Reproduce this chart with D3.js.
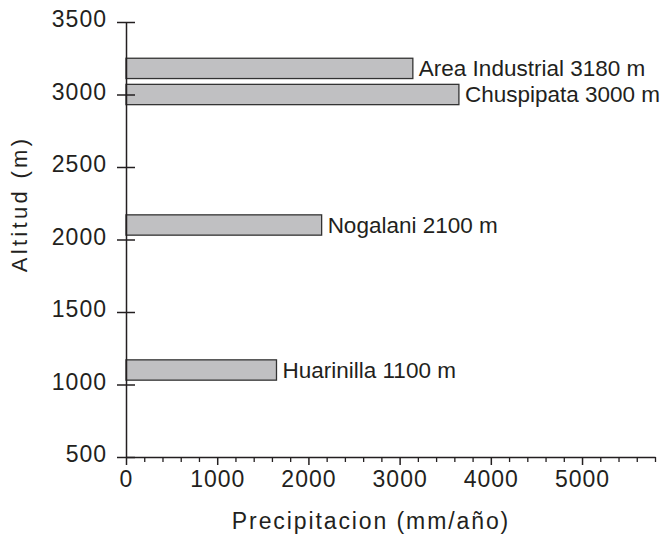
<!DOCTYPE html>
<html>
<head>
<meta charset="utf-8">
<script src="https://cdn.jsdelivr.net/npm/d3@7"></script>
<style>
  body { margin: 0; background: #fff; }
  svg text { font-family: Arial, "Liberation Sans", Helvetica, sans-serif; fill: #231f20; }
</style>
</head>
<body>
<div id="chart"></div>
<script>
// data
const sites = ["Area Industrial", "Chuspipata", "Nogalani", "Huarinilla"];
const altitudes = [3180, 3000, 2100, 1100];      // m
const precipitation = [3145, 3650, 2145, 1650];  // mm/año
const xTicks = [0, 1000, 2000, 3000, 4000, 5000];
const yTicks = [500, 1000, 1500, 2000, 2500, 3000, 3500];

const width = 672;
const height = 538;
const margin = { top: 22, right: 17, bottom: 81, left: 126 };
const barHalf = 70; // half bar thickness in metres

const datas = sites.map((s, i) => ({ site: s, alt: altitudes[i], p: precipitation[i] }));

const svg = d3.select('#chart')
  .append('svg')
  .attr('width', width)
  .attr('height', height);

const x = d3.scaleLinear()
  .domain([0, 5800])
  .range([margin.left, width - margin.right]);

const y = d3.scaleLinear()
  .domain([500, 3500])
  .range([height - margin.bottom, margin.top]);

// bars
svg.append('g')
  .selectAll('rect')
  .data(datas)
  .join('rect')
    .attr('x', x(0))
    .attr('y', d => y(d.alt + barHalf))
    .attr('width', d => x(d.p) - x(0))
    .attr('height', d => y(d.alt - barHalf) - y(d.alt + barHalf))
    .attr('fill', '#c0c0c2')
    .attr('stroke', '#333')
    .attr('stroke-width', 1.3);

// bar labels
svg.append('g')
  .selectAll('text')
  .data(datas)
  .join('text')
    .attr('x', d => x(d.p) + 6)
    .attr('y', d => y(d.alt))
    .attr('dy', '0.35em')
    .style('font-size', '22.5px')
    .text(d => `${d.site} ${d.alt} m`);

// x axis: minor ticks then major
const minor = d3.range(0, 5801, 200).filter(v => v % 1000 !== 0);
svg.append('g')
  .attr('transform', `translate(0, ${y(500)})`)
  .call(d3.axisBottom(x).tickValues(minor).tickSize(5).tickFormat('').tickSizeOuter(0))
  .call(g => g.select('.domain').remove())
  .call(g => g.selectAll('line').attr('stroke', '#231f20').attr('stroke-width', 1.3));

svg.append('g')
  .attr('transform', `translate(0, ${y(500)})`)
  .call(d3.axisBottom(x).tickValues(xTicks).tickFormat(d3.format('d'))
    .tickSize(8).tickPadding(6).tickSizeOuter(0))
  .call(g => g.select('.domain').attr('stroke', '#231f20').attr('stroke-width', 1.5))
  .call(g => g.selectAll('line').attr('stroke', '#231f20').attr('stroke-width', 1.5))
  .call(g => g.selectAll('text').style('font-size', '23px').style('letter-spacing', '1px'));

// y axis, ticks crossing the line
svg.append('g')
  .attr('transform', `translate(${x(0)}, 0)`)
  .call(d3.axisLeft(y).tickValues(yTicks).tickFormat(d3.format('d'))
    .tickSize(9).tickPadding(10).tickSizeOuter(0))
  .call(g => g.select('.domain').attr('stroke', '#231f20').attr('stroke-width', 1.5))
  .call(g => g.selectAll('line').attr('x2', 9).attr('x1', -9).attr('stroke', '#231f20').attr('stroke-width', 1.5))
  .call(g => g.selectAll('text').style('font-size', '23px').style('letter-spacing', '1px').attr('dy', '0.2em'));

// axis titles
svg.append('text')
  .attr('x', 371)
  .attr('y', 529)
  .attr('text-anchor', 'middle')
  .style('font-size', '23px')
  .style('letter-spacing', '1.9px')
  .text('Precipitacion (mm/año)');

svg.append('text')
  .attr('transform', 'translate(27, 204) rotate(-90)')
  .attr('text-anchor', 'middle')
  .style('font-size', '22px')
  .style('letter-spacing', '3.3px')
  .text('Altitud (m)');
</script>
</body>
</html>
